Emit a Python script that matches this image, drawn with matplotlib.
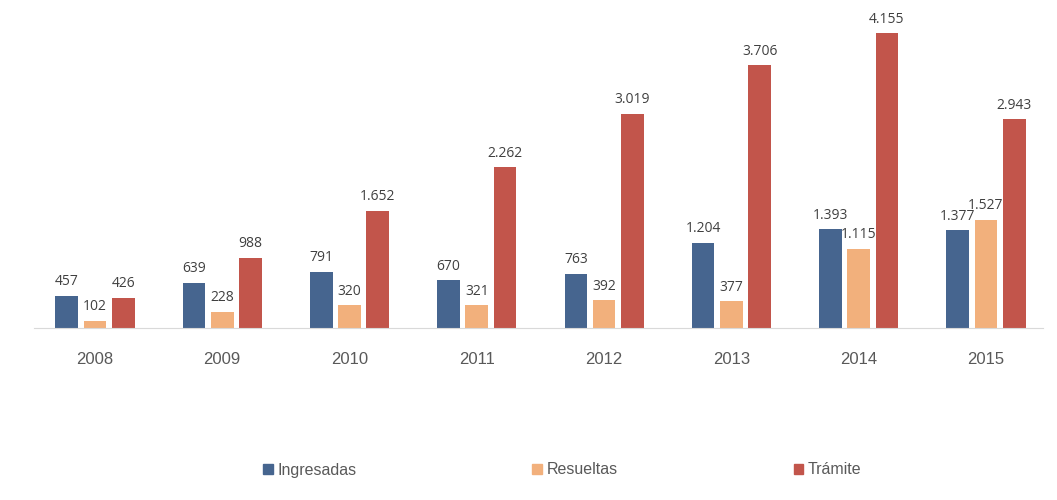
import numpy as np
import matplotlib.pyplot as plt
from matplotlib.patches import Patch

years = ["2008", "2009", "2010", "2011", "2012", "2013", "2014", "2015"]
ingresadas = [457, 639, 791, 670, 763, 1204, 1393, 1377]
resueltas = [102, 228, 320, 321, 392, 377, 1115, 1527]
tramite = [426, 988, 1652, 2262, 3019, 3706, 4155, 2943]

series = [("Ingresadas", ingresadas, "#46658f"),
          ("Resueltas", resueltas, "#f2b07c"),
          ("Trámite", tramite, "#c2554b")]


def fmt(v):
    return f"{v:,}".replace(",", ".")


fig = plt.figure(figsize=(10.57, 5), dpi=100)
ax = fig.add_axes([0.032, 0.344, 0.955, 0.636])

x = np.arange(len(years))
step = 0.222
width = 0.178
for i, (name, vals, color) in enumerate(series):
    pos = x + (i - 1) * step
    ax.bar(pos, vals, width=width, color=color)
    for p, v in zip(pos, vals):
        ax.text(p, v + 90, fmt(v), ha="center", va="bottom",
                fontsize=10, color="#404040", family="Open Sans")

ax.set_xlim(-0.48, 7.45)
ax.set_ylim(0, 4480)
ax.set_yticks([])
ax.set_xticks(x)
ax.set_xticklabels(years, fontsize=12, color="#595959", family="Liberation Sans")
ax.tick_params(axis="x", length=0, pad=17)
for s in ["top", "left", "right"]:
    ax.spines[s].set_visible(False)
ax.spines["bottom"].set_color("#d9d9d9")

handles = [Patch(color=c) for _, _, c in series]
fig.legend(handles, [n for n, _, _ in series], loc="center",
           bbox_to_anchor=(0.532, 0.06), ncol=3, frameon=False,
           handlelength=0.6, handleheight=0.6, handletextpad=0.3,
           columnspacing=11.0, prop={"family": "Liberation Sans", "size": 11.5},
           labelcolor="#595959")

fig.savefig("out.png", dpi=100)
